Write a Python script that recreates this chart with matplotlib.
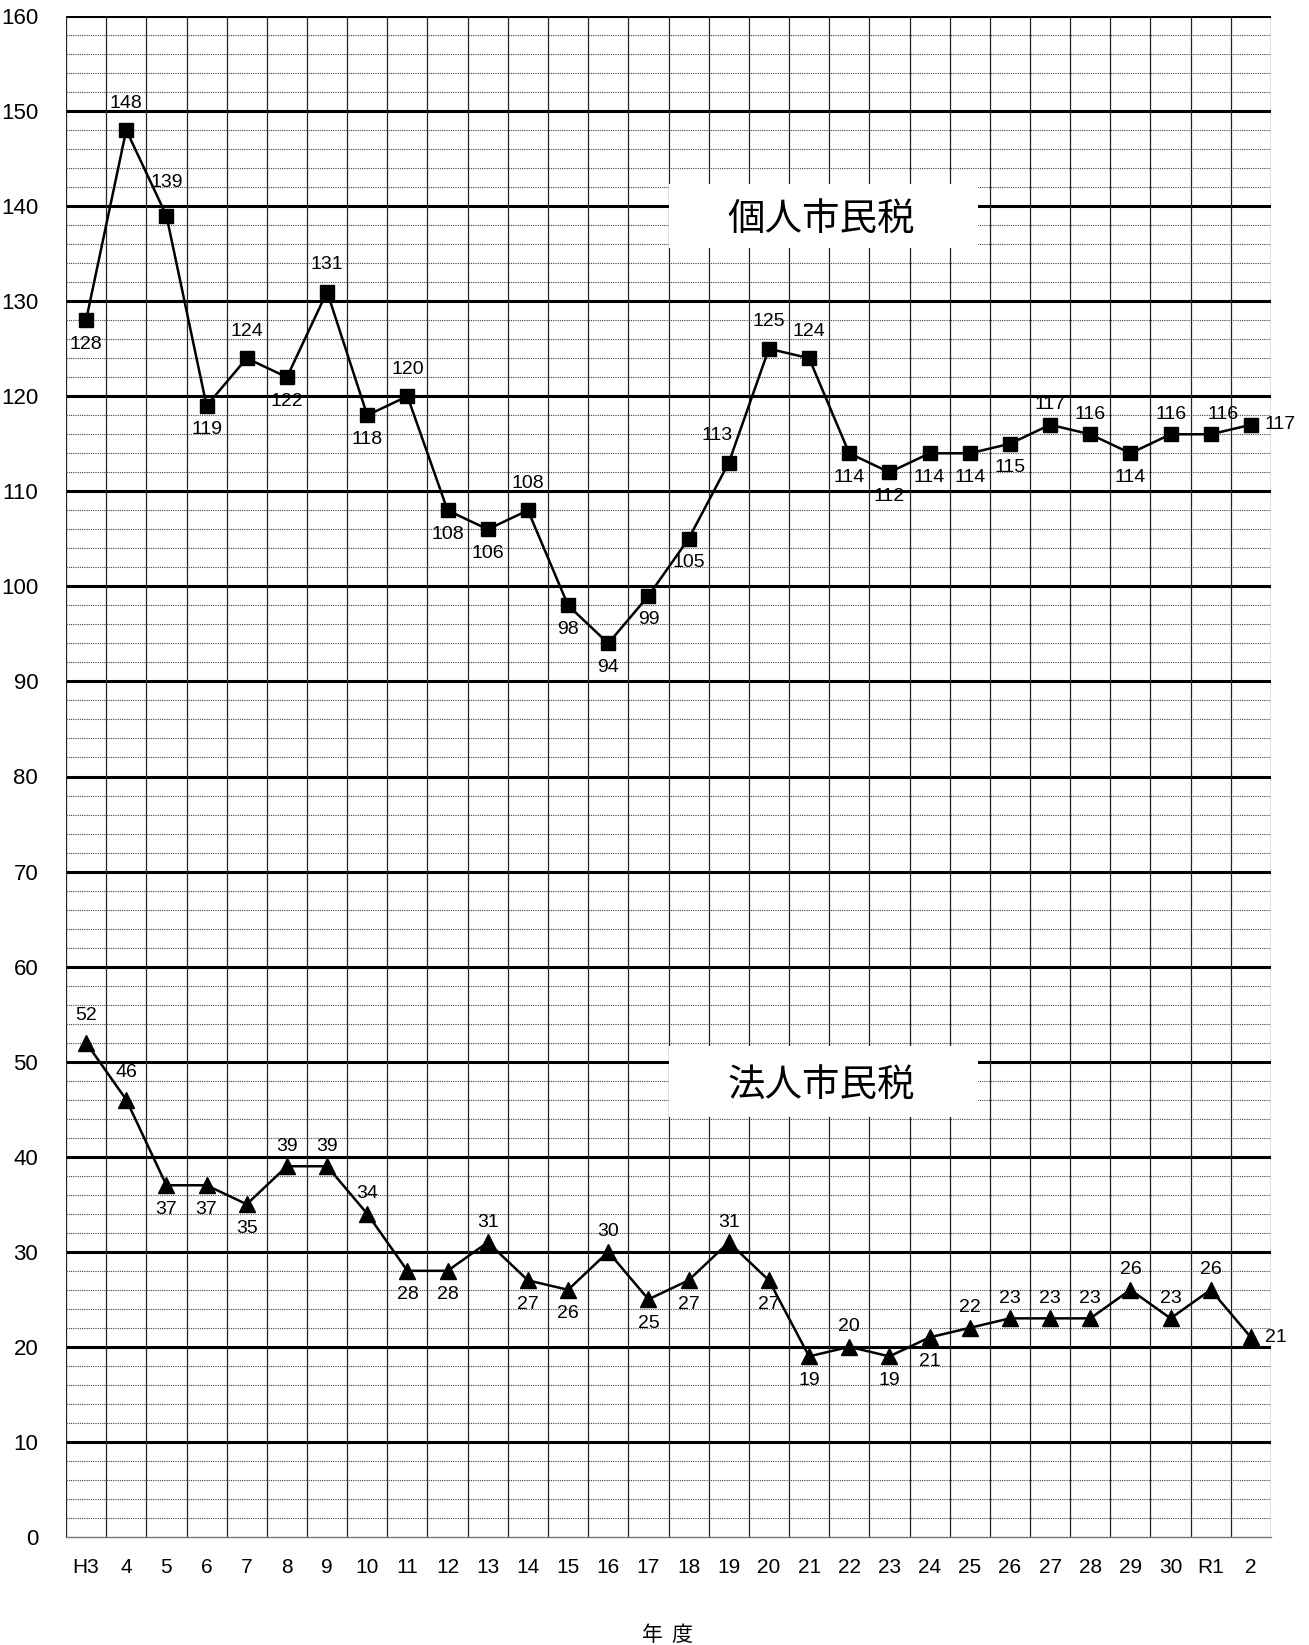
"""
個人市民税 / 法人市民税 の推移 (line chart with labelled points)
"""
import matplotlib
matplotlib.use('Agg')
from matplotlib import pyplot as plt
from matplotlib.patches import Rectangle

years = ['H3', '4', '5', '6', '7', '8', '9', '10', '11', '12', '13', '14',
         '15', '16', '17', '18', '19', '20', '21', '22', '23', '24', '25',
         '26', '27', '28', '29', '30', 'R1', '2']
kojin = [128, 148, 139, 119, 124, 122, 131, 118, 120, 108, 106, 108, 98, 94,
         99, 105, 113, 125, 124, 114, 112, 114, 114, 115, 117, 116, 114, 116,
         116, 117]
houjin = [52, 46, 37, 37, 35, 39, 39, 34, 28, 28, 31, 27, 26, 30, 25, 27, 31,
          27, 19, 20, 19, 21, 22, 23, 23, 23, 26, 23, 26, 21]

# where each value label sits: a=above, s=above (closer), h=above (higher),
# b=below, r=right, al/ar = above shifted left/right
kojin_where = ['b', 'a', 'h', 'b', 'a', 'b', 'a', 'b', 'a', 'b', 'b', 'a',
               'b', 'b', 'b', 'b', 'al', 'a', 'a', 'b', 'b', 'b', 'b', 'b',
               's', 's', 'b', 's', 'ar', 'r']
houjin_where = ['a', 'a', 'b', 'b', 'b', 's', 's', 's', 'b', 'b', 's', 'b',
                'b', 's', 'b', 'b', 's', 'b', 'b', 's', 'b', 'b', 's', 's',
                's', 's', 's', 's', 's', 'r']

OFFSETS = {'a': (0, 27, 'center'), 's': (0, 20, 'center'),
           'h': (0, 33, 'center'), 'b': (0, -24, 'center'),
           'r': (14, 0, 'left'), 'al': (-12, 27, 'center'),
           'ar': (12, 20, 'center')}

W, H = 1309, 1645
fig = plt.figure(figsize=(W / 100, H / 100), dpi=100)
ax = fig.add_axes([66 / W, 108 / H, 1205 / W, 1521 / H])

n = len(years)
xs = list(range(n))
ax.set_xlim(-0.5, n - 0.5)
ax.set_ylim(0, 160)

# grid
for v in range(2, 160, 2):
    if v % 10:
        ax.axhline(v, color='#444444', lw=0.8, ls=(0, (1, 1)), zorder=0.5)
for v in range(10, 161, 10):
    ax.axhline(v, color='black', lw=2.2, zorder=0.6)
for i in range(n + 1):
    ax.axvline(i - 0.5, color='#222222', lw=0.9, zorder=0.6)

for s in ['top', 'right', 'left']:
    ax.spines[s].set_visible(False)
ax.spines['bottom'].set_color('#777777')
ax.spines['bottom'].set_linewidth(1.0)

ax.set_xticks(xs)
ax.set_xticklabels(years, fontsize=15, family='Liberation Sans')
ax.set_yticks(range(0, 161, 10))
ax.set_yticklabels([str(v) for v in range(0, 161, 10)], fontsize=16,
                   family='Liberation Sans')
ax.tick_params(axis='both', length=0)
ax.tick_params(axis='x', pad=15)
ax.tick_params(axis='y', pad=20)

# title boxes
for x0, x1, y0, y1, tx, ty, label in [
        (14.5, 22.2, 135.6, 142.3, 18.3, 138.6, '個人市民税'),
        (14.5, 22.2, 44.2, 51.6, 18.3, 47.4, '法人市民税')]:
    ax.add_patch(Rectangle((x0, y0), x1 - x0, y1 - y0, facecolor='white',
                           edgecolor='none', zorder=1.5))
    ax.text(tx, ty, label, fontsize=27, family=['Noto Sans CJK JP'],
            ha='center', va='center', zorder=1.6)

ax.plot(xs, kojin, color='black', lw=1.8, marker='s', ms=10.5, zorder=3)
ax.plot(xs, houjin, color='black', lw=1.8, marker='^', ms=11, zorder=3)

for vals, where in [(kojin, kojin_where), (houjin, houjin_where)]:
    for x, v, w in zip(xs, vals, where):
        dx, dy, ha = OFFSETS[w]
        ax.annotate(str(v), (x, v), xytext=(dx, dy), textcoords='offset pixels',
                    ha=ha, va='center', fontsize=14, family='Liberation Sans',
                    zorder=4, annotation_clip=False)

fig.text(668 / W, 10 / H, '年  度', fontsize=15, family=['Noto Sans CJK JP'],
         ha='center', va='center')

fig.savefig('out.png', dpi=100)
